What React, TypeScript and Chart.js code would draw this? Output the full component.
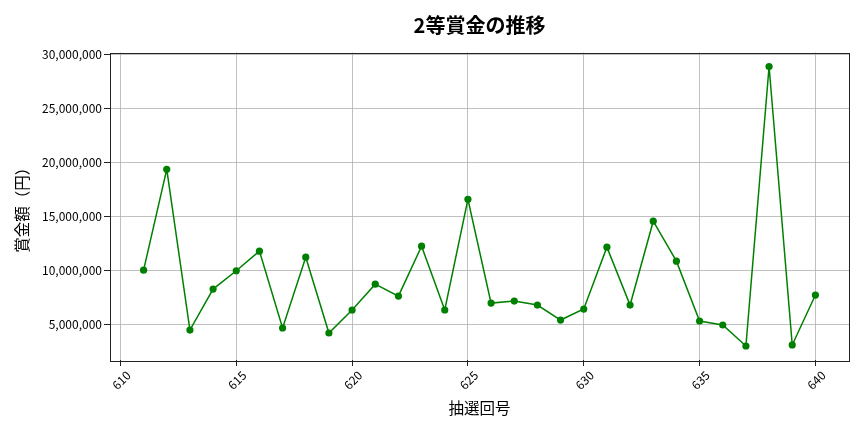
import React, { useEffect, useRef } from "react";
import { Chart, registerables } from "chart.js";

Chart.register(...registerables);

const drawNumbers = [
  611, 612, 613, 614, 615, 616, 617, 618, 619, 620,
  621, 622, 623, 624, 625, 626, 627, 628, 629, 630,
  631, 632, 633, 634, 635, 636, 637, 638, 639, 640,
];

const prizeValues = [
  10000000, 19350000, 4440000, 8240000, 9940000, 11760000, 4630000, 11200000, 4170000, 6300000,
  8700000, 7590000, 12220000, 6300000, 16570000, 6940000, 7130000, 6760000, 5370000, 6390000,
  12130000, 6760000, 14540000, 10830000, 5280000, 4910000, 2960000, 28890000, 3060000, 7690000,
];

const xTickValues = [610, 615, 620, 625, 630, 635, 640];
const yTickValues = [5000000, 10000000, 15000000, 20000000, 25000000, 30000000];

const titleText = "2等賞金の推移";
const xTitleText = "抽選回号";
const yTitleText = "賞金額（円）";

const FONT = "'Noto Sans CJK JP', 'Noto Sans', sans-serif";

export default function App() {
  const canvasRef = useRef<HTMLCanvasElement | null>(null);

  useEffect(() => {
    document.body.style.margin = "0";
    const canvas = canvasRef.current;
    if (!canvas) return;

    const xMinD = Math.min(...drawNumbers);
    const xMaxD = Math.max(...drawNumbers);
    const xPad = (xMaxD - xMinD) * 0.05;
    const yMinD = Math.min(...prizeValues);
    const yMaxD = Math.max(...prizeValues);
    const yPad = (yMaxD - yMinD) * 0.05;

    const framePlugin = {
      id: "frame",
      afterDatasetsDraw(chart: any) {
        const { ctx, chartArea } = chart;
        ctx.save();
        ctx.strokeStyle = "#222222";
        ctx.lineWidth = 1;
        ctx.strokeRect(
          Math.round(chartArea.left) + 0.5,
          Math.round(chartArea.top) + 0.5,
          Math.round(chartArea.right - chartArea.left),
          Math.round(chartArea.bottom - chartArea.top)
        );
        ctx.restore();
      },
    };

    const chart = new Chart(canvas, {
      type: "line",
      data: {
        datasets: [
          {
            label: "2等賞金",
            data: drawNumbers.map((x, i) => ({ x, y: prizeValues[i] })),
            borderColor: "#008000",
            backgroundColor: "#008000",
            borderWidth: 1.5,
            pointRadius: 3.6,
            pointBorderWidth: 0,
            pointBackgroundColor: "#008000",
            tension: 0,
          },
        ],
      },
      options: {
        animation: false,
        responsive: true,
        maintainAspectRatio: false,
        layout: { padding: { left: 0, right: 15, top: 0, bottom: 0 } },
        plugins: {
          legend: { display: false },
          tooltip: { enabled: false },
          title: {
            display: true,
            text: titleText,
            fullSize: false,
            color: "#000000",
            font: { family: FONT, size: 20, weight: "bold" },
            padding: { top: 13, bottom: 15.5 },
          },
        },
        scales: {
          x: {
            type: "linear",
            min: xMinD - xPad,
            max: xMaxD + xPad,
            afterBuildTicks: (scale: any) => {
              scale.ticks = xTickValues.map((v) => ({ value: v }));
            },
            afterFit: (scale: any) => {
              scale.height = 72;
              scale.paddingLeft = 0;
              scale.paddingRight = 0;
            },
            border: { display: false },
            grid: {
              color: "#b0b0b0",
              lineWidth: 0.8,
              tickColor: "#222222",
              tickLength: 6,
              tickWidth: 1,
            },
            ticks: {
              minRotation: 45,
              maxRotation: 45,
              labelOffset: 8,
              padding: 2,
              color: "#000000",
              font: { family: FONT, size: 12 },
              callback: (v: any) => String(v),
            },
            title: {
              display: true,
              text: xTitleText,
              color: "#000000",
              font: { family: FONT, size: 15.5 },
              padding: { top: 0, bottom: 15 },
            },
          },
          y: {
            type: "linear",
            min: yMinD - yPad,
            max: yMaxD + yPad,
            afterBuildTicks: (scale: any) => {
              scale.ticks = yTickValues.map((v) => ({ value: v }));
            },
            afterFit: (scale: any) => {
              scale.width = 110;
            },
            border: { display: false },
            grid: {
              color: "#b0b0b0",
              lineWidth: 0.8,
              tickColor: "#222222",
              tickLength: 6,
              tickWidth: 1,
            },
            ticks: {
              padding: 2,
              color: "#000000",
              font: { family: FONT, size: 12 },
              callback: (v: any) => Number(v).toLocaleString("en-US"),
            },
            title: {
              display: true,
              text: yTitleText,
              color: "#000000",
              font: { family: FONT, size: 15.5 },
              padding: { top: 13, bottom: 0 },
            },
          },
        },
      },
      plugins: [framePlugin],
    });

    return () => {
      chart.destroy();
    };
  }, []);

  return (
    <div style={{ position: "absolute", left: 0, top: 0, width: 864, height: 432 }}>
      <canvas ref={canvasRef} />
    </div>
  );
}
